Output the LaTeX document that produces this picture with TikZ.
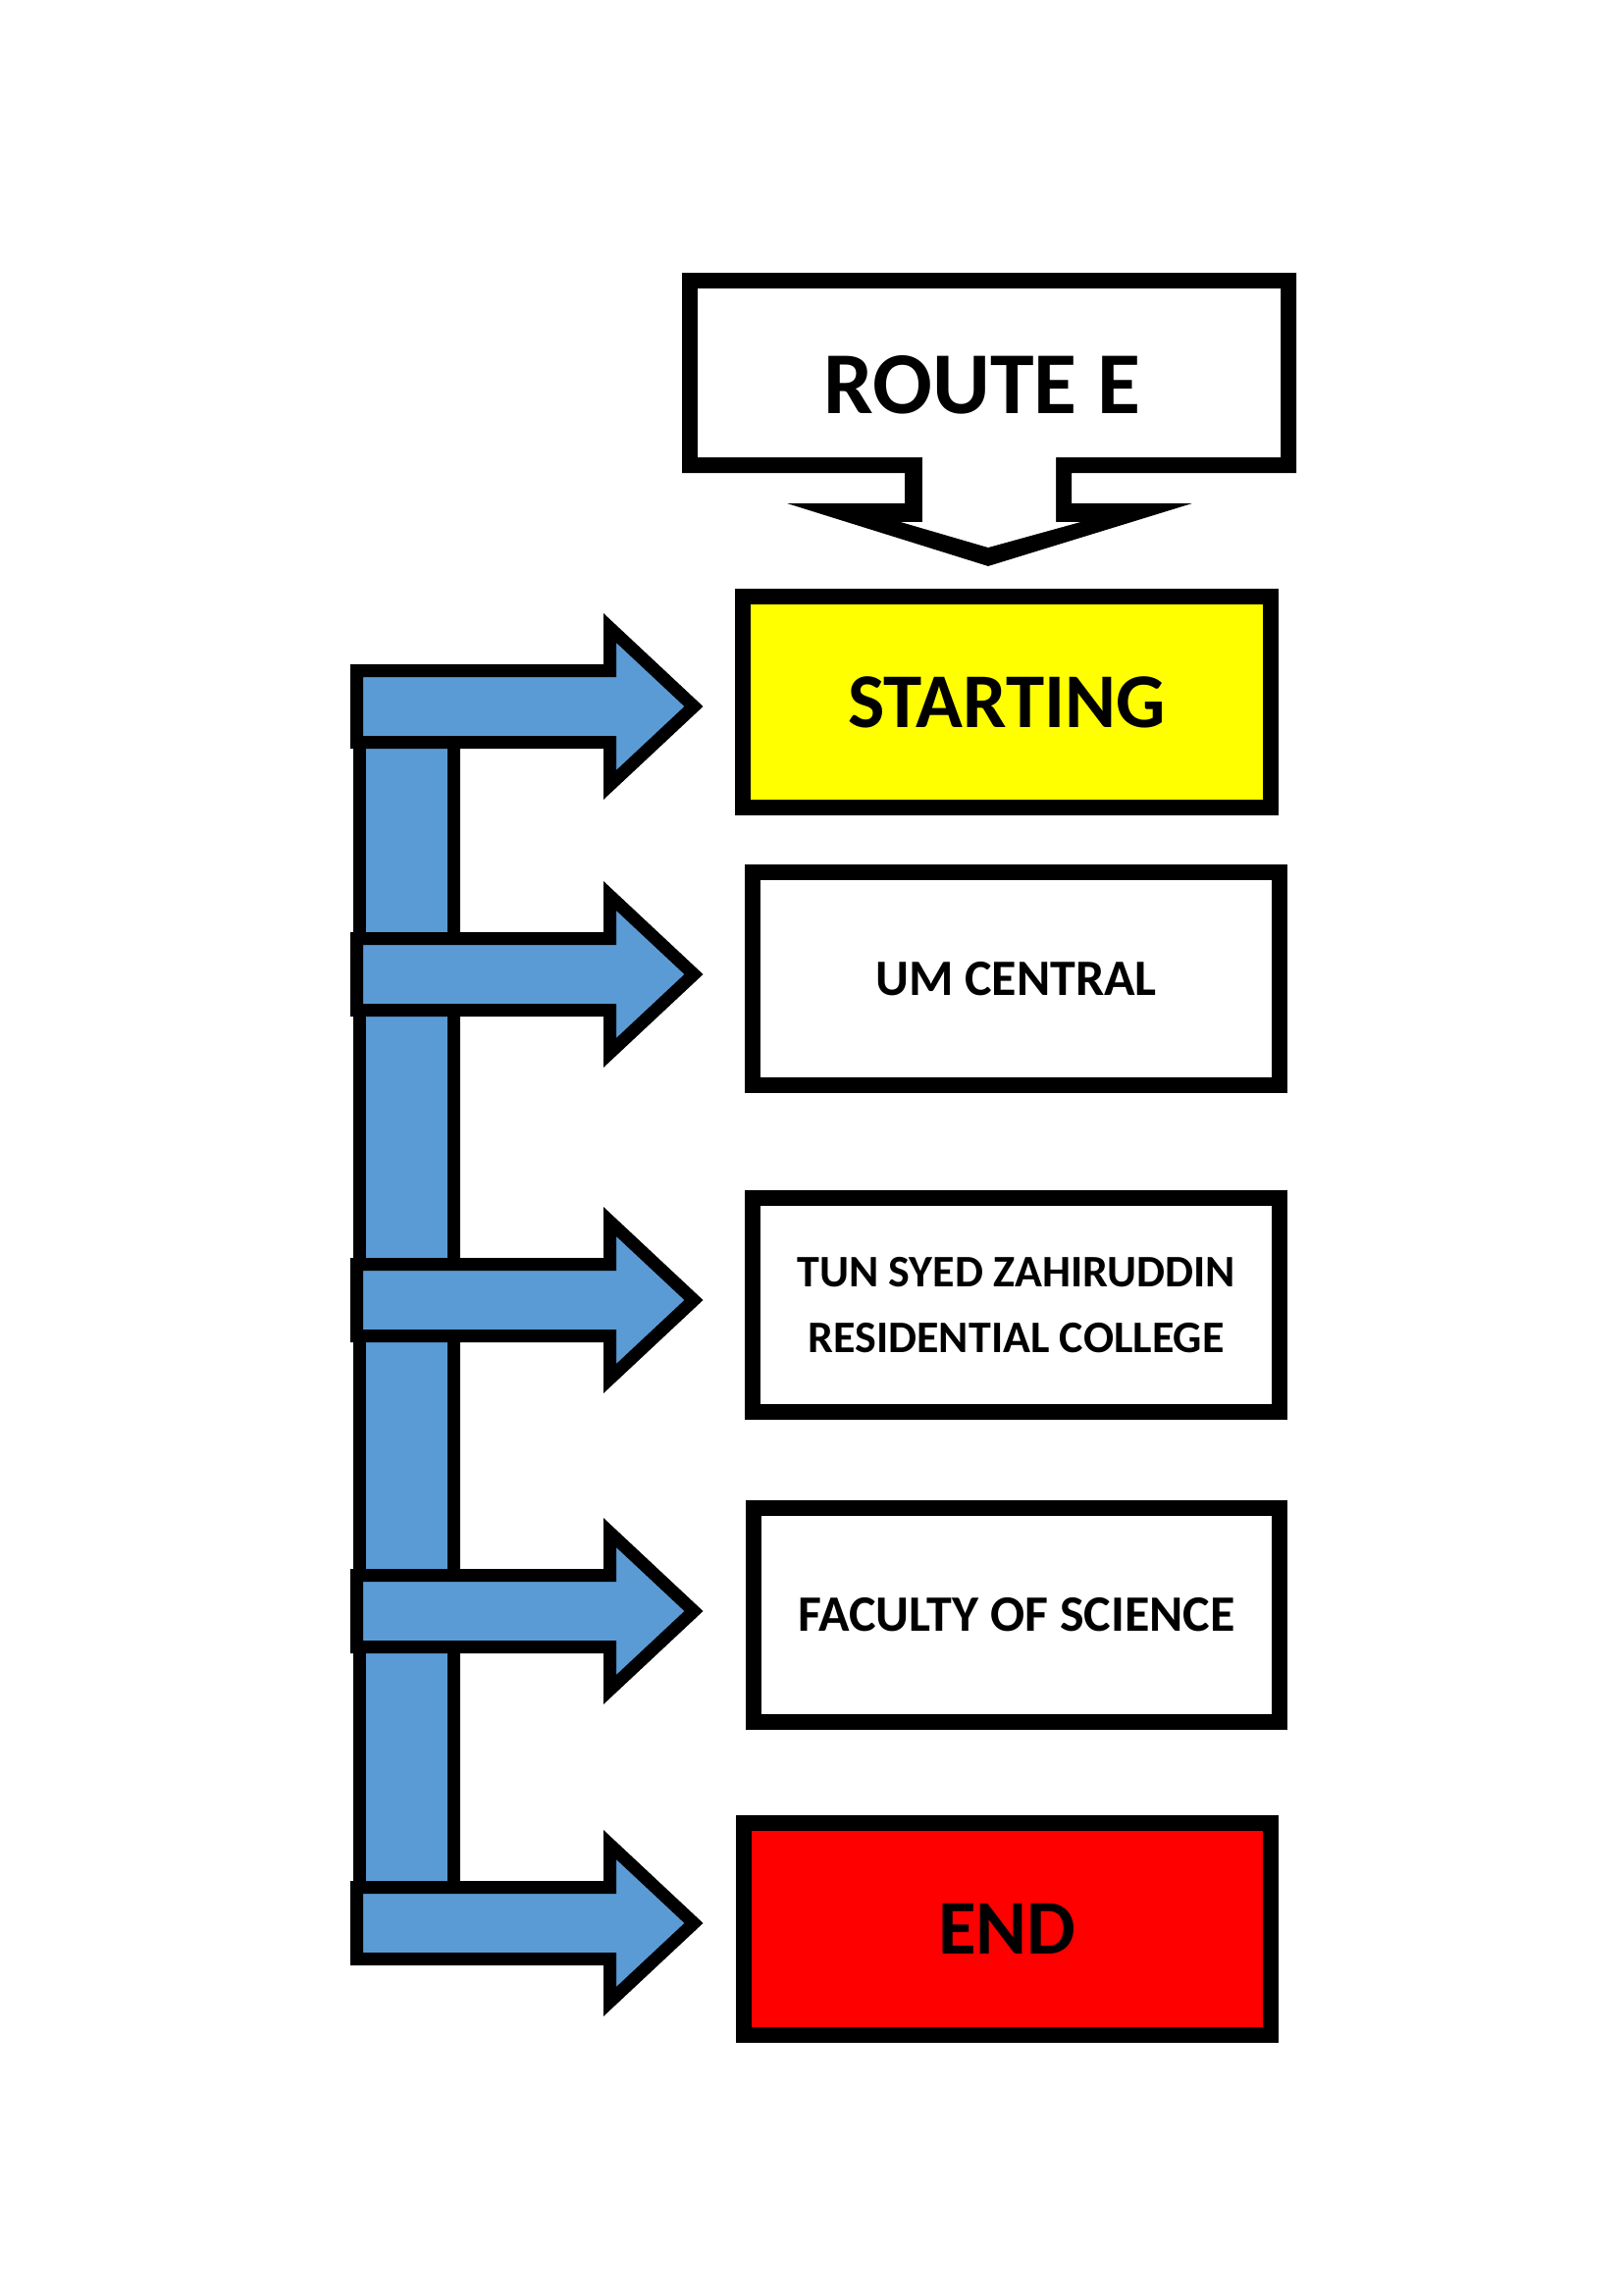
\documentclass[tikz,border=0pt]{standalone}
\usepackage{fontspec}
\setmainfont{Carlito}
\definecolor{arrowblue}{HTML}{5B9BD5}
\definecolor{startyellow}{HTML}{FFFF00}
\definecolor{endred}{HTML}{FF0000}
\begin{document}
\begin{tikzpicture}[x=1pt,y=-1pt,line join=miter,
  box/.style={draw=black,line width=16pt,rectangle,inner sep=0pt,outer sep=0pt,
    font=\bfseries\fontsize{52}{60}\selectfont,text=black,align=center},
  bigtext/.style={font=\bfseries\fontsize{79}{90}\selectfont},
  barrow/.style={draw=black,fill=arrowblue,line width=13pt,line join=miter}]
\useasboundingbox (0,0) rectangle (1654,2339);
\fill[white] (0,0) rectangle (1654,2339);

% ROUTE E callout
\fill[black] (695,278) -- (1321,278) -- (1321,482) -- (1092,482) -- (1092,513)
  -- (1215,513) -- (1007,577) -- (802,513) -- (922,513) -- (922,482)
  -- (695,482) -- cycle;
\fill[white] (711,294) -- (1305,294) -- (1305,466) -- (1076,466) -- (1076,532)
  -- (1101,532) -- (1007,558) -- (918,532) -- (940,532) -- (940,466)
  -- (711,466) -- cycle;
\node[inner sep=0pt,font=\bfseries\fontsize{90}{100}\selectfont] (route) at (1001,392) {ROUTE E};

% vertical blue bar
\draw[barrow] (366.5,740) rectangle (462.5,1940);

% blue block arrows
\foreach \c in {720,993,1325,1642,1960} {
  \draw[barrow] (363.5,{\c-36.5}) -- (621.5,{\c-36.5}) -- (621.5,{\c-80})
    -- (707,\c) -- (621.5,{\c+80}) -- (621.5,{\c+36.5}) -- (363.5,{\c+36.5}) -- cycle;
}

% boxes
\node[box,fill=startyellow,bigtext,minimum width=538pt,minimum height=215pt] (start) at (1026,715.5) {STARTING};
\node[box,fill=white,minimum width=537pt,minimum height=217pt] (central) at (1035.5,997.5) {UM CENTRAL};
\node[box,fill=white,minimum width=537pt,minimum height=218pt,font=\bfseries\fontsize{46}{67}\selectfont] (college) at (1035.5,1330) {TUN SYED ZAHIRUDDIN\\RESIDENTIAL COLLEGE};
\node[box,fill=white,minimum width=536pt,minimum height=218pt] (science) at (1036,1646) {FACULTY OF SCIENCE};
\node[box,fill=endred,bigtext,minimum width=537pt,minimum height=216pt] (finish) at (1026.5,1966) {END};
\end{tikzpicture}
\end{document}
